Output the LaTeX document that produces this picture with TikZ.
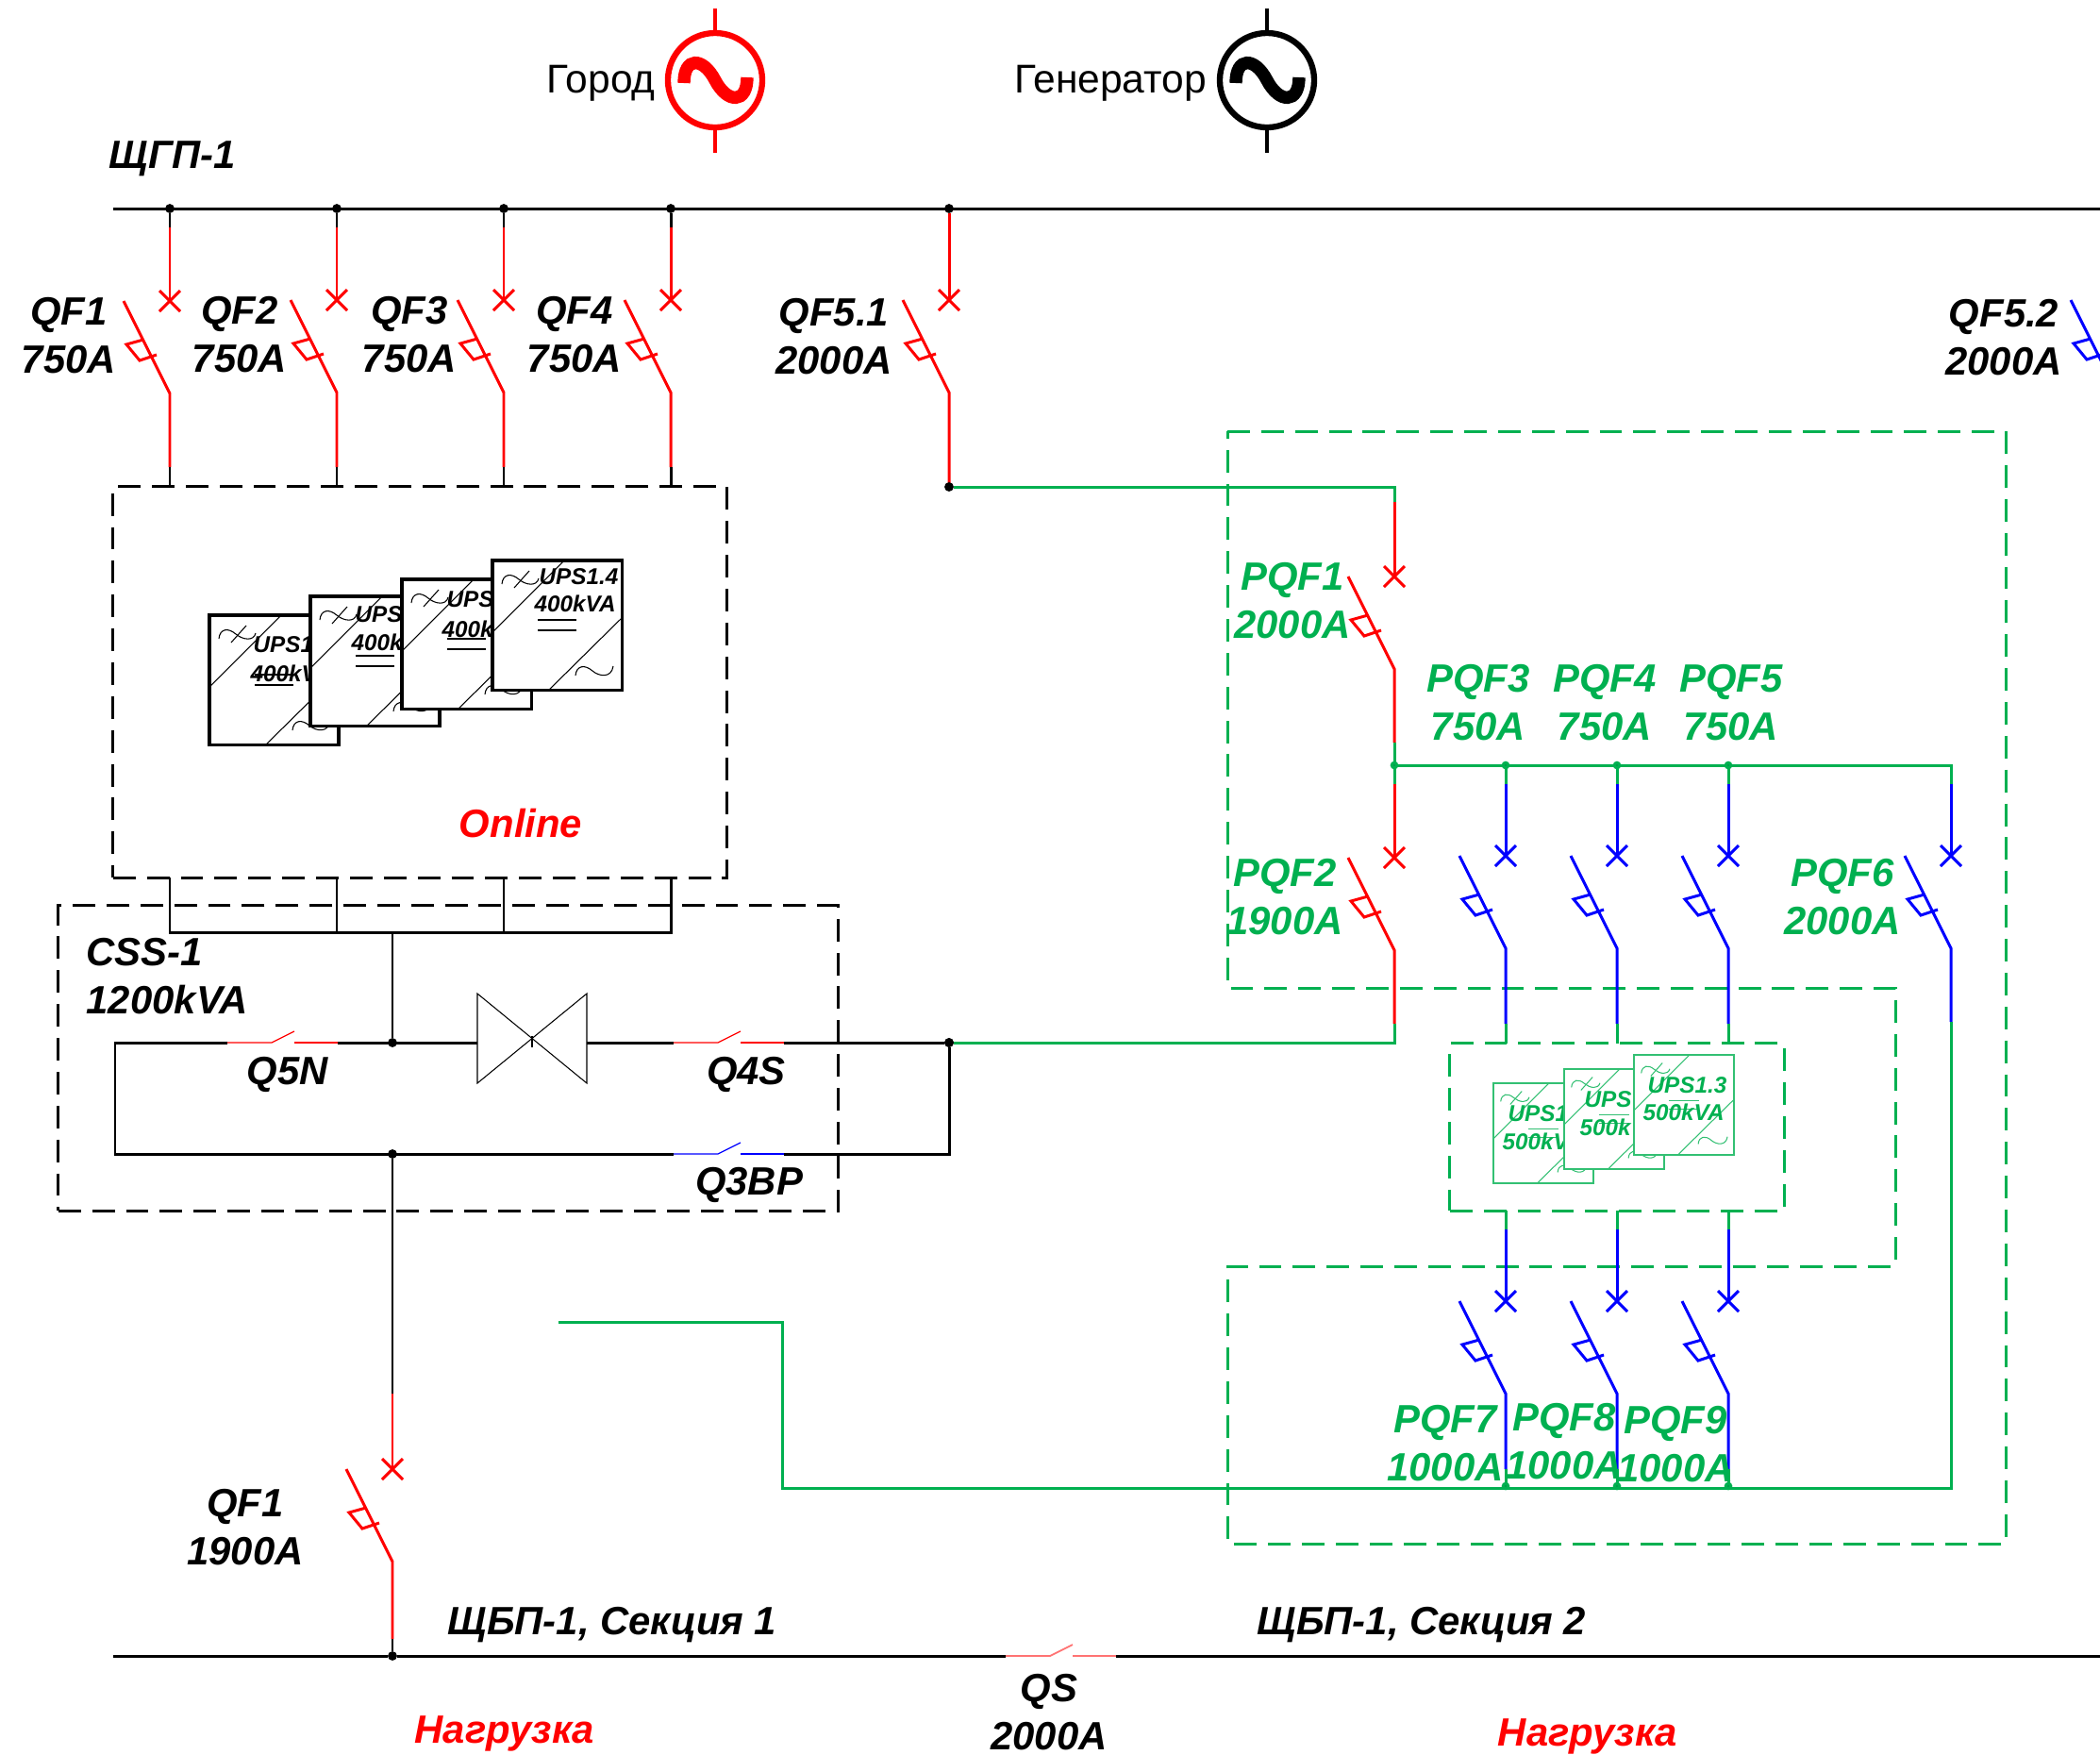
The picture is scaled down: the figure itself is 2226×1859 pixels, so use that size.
\documentclass[tikz,border=0pt]{standalone}
\usepackage{fontspec}
\setmainfont{Liberation Sans}
\usetikzlibrary{positioning}
\definecolor{busgreen}{HTML}{00B050}
\definecolor{busblue}{HTML}{0000FF}
\definecolor{busred}{HTML}{FF0000}

% name, x, wire start y, y of the cross, wire end y, colour
\newcommand{\breaker}[6]{
    \coordinate (#1t) at (#2,#3);
    \coordinate (#1x) at (#2,#4);
    \coordinate (#1b) at (#2,#4+98);
    \coordinate (#1e) at (#2,#5);
    \coordinate (#1u) at (#2-49,#4);
    \path [line, draw=#6] (#1t) -- (#1x);
    \path [line, draw=#6] (#1u) -- (#1b) -- (#1e);
    \path [line, draw=#6] (#1x) +(-11,-11) -- +(11,11) +(-11,11) -- +(11,-11);
    \path [line, draw=#6] (#1b) +(-28,-57) -- +(-46,-52) -- +(-32,-35) -- +(-14,-41);
}
% name, x of left end, y, colour, line style
\newcommand{\openswitch}[5]{
    \coordinate (#1l) at (#2,#3);
    \coordinate (#1m) at (#2+47,#3);
    \coordinate (#1n) at (#2+71,#3-12);
    \coordinate (#1o) at (#2+71,#3);
    \coordinate (#1r) at (#2+117,#3);
    \path [#5, draw=#4] (#1l) -- (#1m) -- (#1n);
    \path [#5, draw=#4] (#1o) -- (#1r);
}
% name, x, colour
\newcommand{\source}[3]{
    \node [srcring, draw=#3] (#1) at (#2,85) {};
    \coordinate (#1up) at (#2,9);
    \coordinate (#1dn) at (#2,162);
    \path [srcstem, draw=#3] (#1up) -- (#1.north);
    \path [srcstem, draw=#3] (#1.south) -- (#1dn);
    \path [srcwave, draw=#3] (#2-33,88) .. controls (#2-33,60) and (#2-13,60) .. (#2,85)
    .. controls (#2+13,110) and (#2+34,110) .. (#2+34,82);
}
% name, x, y, size, scale, colour, frame width
\newcommand{\upsbox}[7]{
    \node [upsframe, draw=#6, line width=#7, minimum size=#4] (#1) at (#2,#3) {};
    \begin{scope}[shift={(#1.north west)}, scale=#5]
        \path [upsline, draw=#6] (0,76) -- (76,0) (60,137) -- (137,61);
        \path [upsline, draw=#6] (48,63) -- (89,63) (48,74) -- (89,74);
        \path [upsline, draw=#6] (23,29) -- (39,11);
        \path [upsline, draw=#6] (10,25) .. controls (11,14) and (20,13) .. (28,20)
        .. controls (35,26) and (47,28) .. (49,19);
        \path [upsline, draw=#6] (88,122) .. controls (89,111) and (98,110) .. (106,117)
        .. controls (113,123) and (126,125) .. (128,112);
    \end{scope}
}

\begin{document}
\begin{tikzpicture}[x=0.01cm, y=-0.01cm]
    \tikzstyle{line} = [draw, line width=0.85pt]
    \tikzstyle{thinline} = [draw, line width=0.35pt]
    \tikzstyle{softline} = [draw, line width=0.5pt]
    \tikzstyle{upsline} = [draw, line width=0.3pt]
    \tikzstyle{srcstem} = [draw, line width=1.4pt]
    \tikzstyle{srcwave} = [draw, line width=3.8pt]
    \tikzstyle{srcring} = [circle, draw, line width=1.8pt, minimum size=1cm, inner sep=0pt]
    \tikzstyle{upsframe} = [rectangle, draw, fill=white, anchor=north west,
    inner sep=0pt, outer sep=0pt]
    \tikzstyle{dashbox} = [rectangle, draw, line width=0.85pt, dash pattern=on 6.8pt off 3.4pt,
    inner sep=0pt, outer sep=0pt]
    \tikzstyle{dashline} = [draw, busgreen, line width=0.85pt, dash pattern=on 6.8pt off 3.4pt]
    \tikzstyle{dot} = [circle, fill=black, minimum size=2.8pt, inner sep=0pt, outer sep=0pt]
    \tikzstyle{gdot} = [circle, fill=black, draw=busgreen, line width=1pt, minimum size=1.4pt,
    inner sep=0pt, outer sep=0pt]
    \tikzstyle{lbl} = [font=\fontsize{11.9}{14.5}\selectfont\bfseries\itshape, align=center,
    inner sep=0pt]
    \tikzstyle{glbl} = [lbl, text=busgreen]
    \tikzstyle{rlbl} = [lbl, text=busred]
    \tikzstyle{plain} = [font=\fontsize{12.1}{14}\selectfont, inner sep=0pt, anchor=base]
    \tikzstyle{upslbl} = [font=\fontsize{6.9}{8}\selectfont\bfseries\itshape, inner sep=0pt, anchor=west]

    \useasboundingbox (0,0) rectangle (2226,1859);
    \clip (0,0) rectangle (2226,1859);

    % sources
    \source{city}{758}{busred}
    \source{gen}{1343}{black}
    \node [plain] (citylbl) at (637,98) {Город};
    \node [plain] (genlbl) at (1177,98) {Генератор};

    % frames
    \node [dashbox, minimum width=6.5cm, minimum height=4.14cm] (online) at (445,723) {};
    \node [dashbox, minimum width=8.26cm, minimum height=3.23cm] (css) at (475,1121.5) {};
    \node [dashbox, draw=busgreen, minimum width=3.54cm, minimum height=1.77cm] (upsgroup) at (1714,1194.5) {};
    \coordinate (zone1) at (1301,457);
    \coordinate (zone2) at (2126,457);
    \coordinate (zone3) at (2126,1636);
    \coordinate (zone4) at (1301,1636);
    \coordinate (zone5) at (1301,1342);
    \coordinate (zone6) at (2009,1342);
    \coordinate (zone7) at (2009,1047);
    \coordinate (zone8) at (1301,1047);
    \path [dashline] (zone1) -- (zone2) -- (zone3) -- (zone4) -- (zone5) -- (zone6) -- (zone7)
    -- (zone8) -- cycle;

    % input bus
    \coordinate (busin) at (120,221);
    \coordinate (businend) at (2226,221);
    \path [line] (busin) -- (businend);
    \node [dot] (bus1) at (180,221) {};
    \node [dot] (bus2) at (357,221) {};
    \node [dot] (bus3) at (534,221) {};
    \node [dot] (bus4) at (711,221) {};
    \node [dot] (bus5) at (1006,221) {};
    \node [lbl, anchor=base west] (businlbl) at (115,178) {ЩГП-1};

    % input breakers
    \breaker{qf1}{180}{241}{319}{495}{busred}
    \breaker{qf2}{357}{241}{318}{495}{busred}
    \breaker{qf3}{534}{241}{318}{495}{busred}
    \breaker{qf4}{711}{241}{318}{495}{busred}
    \breaker{qf5}{1006}{241}{318}{516}{busred}
    \breaker{qf6}{2244}{241}{318}{516}{busblue}
    \coordinate (on1) at (180,516);
    \coordinate (on2) at (357,516);
    \coordinate (on3) at (534,516);
    \coordinate (on4) at (711,516);
    \path [line] (bus1) -- (qf1t);
    \path [line] (bus2) -- (qf2t);
    \path [line] (bus3) -- (qf3t);
    \path [line] (bus4) -- (qf4t);
    \path [line, draw=busred] (bus5) -- (qf5t);
    \path [line] (qf1e) -- (on1);
    \path [line] (qf2e) -- (on2);
    \path [line] (qf3e) -- (on3);
    \path [line] (qf4e) -- (on4);
    \node [lbl] (qf1lbl) at (73,356) {QF1\\750A};
    \node [lbl] (qf2lbl) at (254,355) {QF2\\750A};
    \node [lbl] (qf3lbl) at (434,355) {QF3\\750A};
    \node [lbl] (qf4lbl) at (609,355) {QF4\\750A};
    \node [lbl] (qf5lbl) at (884,357) {QF5.1\\2000A};
    \node [lbl] (qf6lbl) at (2124,358) {QF5.2\\2000A};

    % black modules
    \upsbox{ups11}{222}{652}{1.37cm}{1}{black}{0.9pt}
    \node [upslbl] (ups11a) at ([shift={(46,31)}]ups11.north west) {UPS1};
    \node [upslbl] (ups11b) at ([shift={(43,62)}]ups11.north west) {400kV};
    \upsbox{ups12}{329}{632}{1.37cm}{1}{black}{0.9pt}
    \node [upslbl] (ups12a) at ([shift={(47,19)}]ups12.north west) {UPS};
    \node [upslbl] (ups12b) at ([shift={(43,49)}]ups12.north west) {400k};
    \upsbox{ups13}{426}{614}{1.37cm}{1}{black}{0.9pt}
    \node [upslbl] (ups13a) at ([shift={(47,21)}]ups13.north west) {UPS};
    \node [upslbl] (ups13b) at ([shift={(42,53)}]ups13.north west) {400k};
    \upsbox{ups14}{522}{594}{1.37cm}{1}{black}{0.9pt}
    \node [upslbl] (ups14a) at ([shift={(49,17)}]ups14.north west) {UPS1.4};
    \node [upslbl] (ups14b) at ([shift={(44,46)}]ups14.north west) {400kVA};
    \node [rlbl] (onlinelbl) at (552,873) {Online};

    % static switch
    \coordinate (off1) at (180,930);
    \coordinate (off2) at (357,930);
    \coordinate (off3) at (534,930);
    \coordinate (off4) at (711,930);
    \coordinate (tie1) at (180,988);
    \coordinate (tie2) at (357,988);
    \coordinate (tie3) at (534,988);
    \coordinate (tie4) at (711,988);
    \coordinate (tie5) at (416,988);
    \path [line] (off1) -- (tie1) -- (tie2) -- (tie3) -- (tie4) -- (off4);
    \path [line] (off2) -- (tie2);
    \path [line] (off3) -- (tie3);
    \node [dot] (midtop) at (416,1105) {};
    \node [dot] (midbot) at (416,1223) {};
    \node [dot] (outtop) at (1006,1105) {};
    \coordinate (leftop) at (122,1105);
    \coordinate (lefbot) at (122,1223);
    \coordinate (outbot) at (1006,1223);
    \path [line] (tie5) -- (midtop);
    \openswitch{qn}{241}{1105}{busred}{thinline}
    \openswitch{qs4}{714}{1105}{busred}{thinline}
    \openswitch{qbp}{714}{1223}{busblue}{thinline}
    \coordinate (valvel) at (506,1105);
    \coordinate (valver) at (622,1105);
    \coordinate (valvea) at (506,1053);
    \coordinate (valveb) at (622,1148);
    \coordinate (valvec) at (622,1053);
    \coordinate (valved) at (506,1148);
    \coordinate (valvet) at (564,1098);
    \coordinate (valveu) at (564,1110);
    \path [upsline] (valvea) -- (valveb) -- (valvec) -- (valved) -- cycle;
    \path [upsline] (valvet) -- (valveu);
    \path [line] (qnl) -- (leftop) -- (lefbot) -- (qbpl);
    \path [line] (qnr) -- (valvel);
    \path [line] (valver) -- (qs4l);
    \path [line] (qs4r) -- (outtop) -- (outbot) -- (qbpr);
    \node [lbl, align=left, anchor=west] (csslbl) at (91,1035) {CSS-1\\1200kVA};
    \node [lbl] (qnlbl) at (305,1139) {Q5N};
    \node [lbl] (qs4lbl) at (791,1139) {Q4S};
    \node [lbl] (qbplbl) at (794,1256) {Q3BP};

    % output bus
    \breaker{qfo}{416}{1477}{1557}{1737}{busred}
    \path [line] (midbot) -- (qfot);
    \node [dot] (busout1) at (416,1755) {};
    \path [line] (qfoe) -- (busout1);
    \coordinate (busoutl) at (120,1755);
    \coordinate (busoutr) at (2226,1755);
    \openswitch{qsec}{1066}{1755}{busred!55}{softline}
    \path [line] (busoutl) -- (busout1) -- (qsecl);
    \path [line] (qsecr) -- (busoutr);
    \node [lbl] (qfolbl) at (260,1619) {QF1\\1900A};
    \node [lbl] (sec1lbl) at (649,1722) {ЩБП-1, Секция 1};
    \node [lbl] (sec2lbl) at (1507,1722) {ЩБП-1, Секция 2};
    \node [lbl] (qseclbl) at (1112,1815) {QS\\2000A};
    \node [rlbl] (load1) at (535,1837) {Нагрузка};
    \node [rlbl] (load2) at (1683,1840) {Нагрузка};

    % green modules
    \upsbox{ups21}{1583}{1148}{1.06cm}{0.774}{busgreen!80}{0.75pt}
    \node [upslbl, text=busgreen] (ups21a) at ([shift={(15,32)}]ups21.north west) {UPS1};
    \node [upslbl, text=busgreen] (ups21b) at ([shift={(9,62)}]ups21.north west) {500kV};
    \upsbox{ups22}{1658}{1133}{1.06cm}{0.774}{busgreen!80}{0.75pt}
    \node [upslbl, text=busgreen] (ups22a) at ([shift={(21,32)}]ups22.north west) {UPS};
    \node [upslbl, text=busgreen] (ups22b) at ([shift={(16,62)}]ups22.north west) {500k};
    \upsbox{ups23}{1732}{1118}{1.06cm}{0.774}{busgreen!80}{0.75pt}
    \node [upslbl, text=busgreen] (ups23a) at ([shift={(14,32)}]ups23.north west) {UPS1.3};
    \node [upslbl, text=busgreen] (ups23b) at ([shift={(9,61)}]ups23.north west) {500kVA};

    % bypass line
    \breaker{pqf1}{1478}{532}{611}{787}{busred}
    \breaker{pqf2}{1478}{831}{909}{1085}{busred}
    \breaker{pqf3}{1596}{831}{907}{1085}{busblue}
    \breaker{pqf4}{1714}{831}{907}{1085}{busblue}
    \breaker{pqf5}{1832}{831}{907}{1085}{busblue}
    \breaker{pqf6}{2068}{831}{907}{1083}{busblue}
    \breaker{pqf7}{1596}{1303}{1379}{1557}{busblue}
    \breaker{pqf8}{1714}{1303}{1379}{1557}{busblue}
    \breaker{pqf9}{1832}{1303}{1379}{1557}{busblue}
    \node [gdot] (pj1) at (1478,811) {};
    \node [gdot] (pj3) at (1596,811) {};
    \node [gdot] (pj4) at (1714,811) {};
    \node [gdot] (pj5) at (1832,811) {};
    \coordinate (pj6) at (2068,811);
    \node [gdot] (pj7) at (1596,1575) {};
    \node [gdot] (pj8) at (1714,1575) {};
    \node [gdot] (pj9) at (1832,1575) {};
    \node [dot] (qf5end) at (1006,516) {};
    \coordinate (pfeed) at (1478,516);
    \coordinate (sumin) at (1478,1105);
    \coordinate (up3) at (1596,1106);
    \coordinate (up4) at (1714,1106);
    \coordinate (up5) at (1832,1106);
    \coordinate (dn7) at (1596,1283);
    \coordinate (dn8) at (1714,1283);
    \coordinate (dn9) at (1832,1283);
    \coordinate (ret1) at (592,1401);
    \coordinate (ret2) at (829,1401);
    \coordinate (ret3) at (829,1577);
    \coordinate (ret4) at (2068,1577);
    \path [line, draw=busgreen] (qf5end) -- (pfeed) -- (pqf1t);
    \path [line, draw=busgreen] (pqf1e) -- (pj1) -- (pqf2t);
    \path [line, draw=busgreen] (pj1) -- (pj3) -- (pj4) -- (pj5) -- (pj6) -- (pqf6t);
    \path [line, draw=busgreen] (pj3) -- (pqf3t);
    \path [line, draw=busgreen] (pj4) -- (pqf4t);
    \path [line, draw=busgreen] (pj5) -- (pqf5t);
    \path [line, draw=busgreen] (pqf2e) -- (sumin) -- (outtop);
    \path [line, draw=busgreen] (pqf3e) -- (up3);
    \path [line, draw=busgreen] (pqf4e) -- (up4);
    \path [line, draw=busgreen] (pqf5e) -- (up5);
    \path [line, draw=busgreen] (dn7) -- (pqf7t);
    \path [line, draw=busgreen] (dn8) -- (pqf8t);
    \path [line, draw=busgreen] (dn9) -- (pqf9t);
    \path [line, draw=busgreen] (pqf7e) -- (pj7);
    \path [line, draw=busgreen] (pqf8e) -- (pj8);
    \path [line, draw=busgreen] (pqf9e) -- (pj9);
    \path [line, draw=busgreen] (ret1) -- (ret2) -- (ret3) -- (ret4) -- (pqf6e);
    \node [dot] (outtopb) at (1006,1105) {};
    \node [glbl] (pqf1lbl) at (1370,637) {PQF1\\2000A};
    \node [glbl] (pqf2lbl) at (1362,951) {PQF2\\1900A};
    \node [glbl] (pqf3lbl) at (1567,745) {PQF3\\750A};
    \node [glbl] (pqf4lbl) at (1701,745) {PQF4\\750A};
    \node [glbl] (pqf5lbl) at (1835,745) {PQF5\\750A};
    \node [glbl] (pqf6lbl) at (1953,951) {PQF6\\2000A};
    \node [glbl] (pqf7lbl) at (1532,1530) {PQF7\\1000A};
    \node [glbl] (pqf8lbl) at (1658,1528) {PQF8\\1000A};
    \node [glbl] (pqf9lbl) at (1776,1531) {PQF9\\1000A};
\end{tikzpicture}
\end{document}
